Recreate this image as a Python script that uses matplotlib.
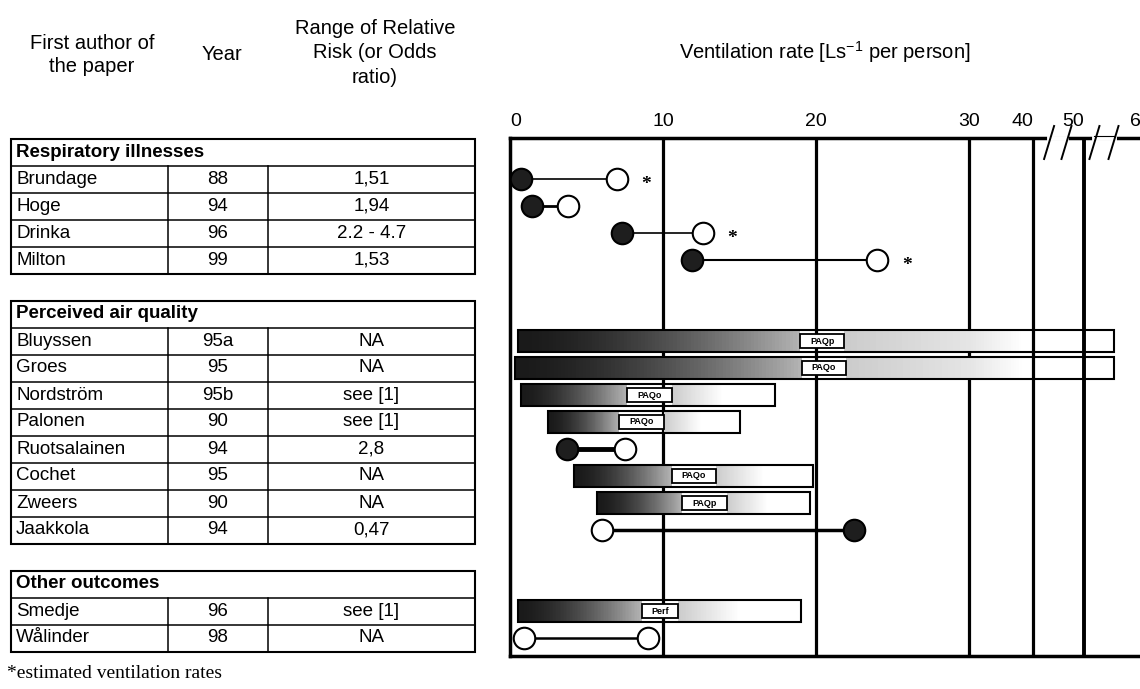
import numpy as np
import matplotlib.pyplot as plt
from matplotlib.patches import Rectangle

plt.rcParams['font.family'] = ['Liberation Sans', 'DejaVu Sans']
plt.rcParams['mathtext.fontset'] = 'custom'
plt.rcParams['mathtext.rm'] = 'Liberation Sans'

# ---- table data ----
groups = ['Respiratory illnesses', 'Perceived air quality', 'Other outcomes']
authors = [['Brundage', 'Hoge', 'Drinka', 'Milton'],
           ['Bluyssen', 'Groes', 'Nordström', 'Palonen', 'Ruotsalainen',
            'Cochet', 'Zweers', 'Jaakkola'],
           ['Smedje', 'Wålinder']]
years = [['88', '94', '96', '99'],
         ['95a', '95', '95b', '90', '94', '95', '90', '94'],
         ['96', '98']]
risks = [['1,51', '1,94', '2.2 - 4.7', '1,53'],
         ['NA', 'NA', 'see [1]', 'see [1]', '2,8', 'NA', 'NA', '0,47'],
         ['see [1]', 'NA']]

# ---- ventilation rates (L/s per person) ----
db_names = ['Brundage', 'Hoge', 'Drinka', 'Milton', 'Ruotsalainen', 'Jaakkola', 'Wålinder']
db_left = [0.7, 1.45, 7.3, 11.9, 3.7, 6.0, 0.9]
db_right = [7.0, 3.8, 12.6, 24.0, 7.5, 22.5, 9.0]
db_left_filled = [True, True, True, True, True, False, False]
db_right_filled = [False, False, False, False, False, True, False]
estimated = ['Brundage', 'Drinka', 'Milton']

bar_names = ['Bluyssen', 'Groes', 'Nordström', 'Palonen', 'Cochet', 'Zweers', 'Smedje']
bar_start = [0.5, 0.3, 0.7, 2.5, 4.2, 5.7, 0.5]
bar_end = [55.3, 55.3, 17.3, 15.0, 19.8, 19.6, 19.0]
bar_tag = ['PAQp', 'PAQo', 'PAQo', 'PAQo', 'PAQo', 'PAQp', 'Perf']
bar_tag_at = [20.4, 20.5, 9.1, 8.6, 12.0, 12.7, 9.8]

tick_vals = [0, 10, 20, 30, 40, 50, 60]

# connector widths (style)
conn_lw = {'Brundage': 1.2, 'Hoge': 2.0, 'Drinka': 1.2, 'Milton': 1.5,
           'Ruotsalainen': 3.5, 'Jaakkola': 2.5, 'Wålinder': 1.8}

# row slots: header, rows, gap
slot = {}
header_slot = []
k = -1
for names in authors:
    header_slot.append(k)
    for i, n in enumerate(names):
        slot[n] = k + 1 + i
    k = k + len(names) + 2

# broken axis: linear to 30, compressed above
brk_v = [0, 30, 40, 50, 60, 80]
brk_p = [0, 30, 34.18, 37.52, 41.18, 48.5]
def fwd(v):
    return np.interp(v, brk_v, brk_p)
def inv(p):
    return np.interp(p, brk_p, brk_v)

W, H = 1140, 689
fig = plt.figure(figsize=(W / 100, H / 100), dpi=100)

top_px, bot_px = 138, 656
ymin, ymax = (bot_px - 179) / 27, (top_px - 179) / 27

ax = fig.add_axes([510 / W, 1 - bot_px / H, (1146 - 510) / W, (bot_px - top_px) / H])
ax.set_xscale('function', functions=(fwd, inv))
ax.set_xlim(0, 61)
ax.set_ylim(ymin, ymax)
ax.set_yticks([])
ax.xaxis.tick_top()
ax.set_xticks(tick_vals)
ax.set_xticklabels([str(v) for v in tick_vals])
ax.tick_params(axis='x', length=0, pad=6, labelsize=14)
for lab, v in zip(ax.get_xticklabels(), tick_vals):
    if v == 0:
        lab.set_ha('left')
    elif v in (40, 50):
        lab.set_ha('right')
for s in ax.spines.values():
    s.set_linewidth(2.5)

for v in tick_vals[1:-1]:
    ax.axvline(v, color='black', lw=2.8 if v == 50 else 2.3, zorder=1)

# gradient bars
bh = 0.78
for n, s0, s1, tag, at in zip(bar_names, bar_start, bar_end, bar_tag, bar_tag_at):
    y = slot[n]
    tw = 2.4 if tag == 'Perf' else 2.9
    bl, br = at - tw / 2, at + tw / 2
    edges = np.linspace(s0, bl, 81)
    t = np.linspace(0, 1, 80)
    g = 0.1 + 0.6 * t ** 1.6
    ax.barh([y] * 80, np.diff(edges), left=edges[:-1], height=bh,
            color=[(c, c, c) for c in g], lw=0, antialiased=False, zorder=3)
    edges = np.linspace(br, br + 0.5 * (s1 - br), 41)
    t = np.linspace(0, 1, 40)
    g = 0.8 + 0.2 * t
    ax.barh([y] * 40, np.diff(edges), left=edges[:-1], height=bh,
            color=[(c, c, c) for c in g], lw=0, antialiased=False, zorder=3)
    ax.barh(y, s1 - s0, left=s0, height=bh, fill=False, edgecolor='black', lw=1.5, zorder=4)
    ax.add_patch(Rectangle((bl, y - 0.27), tw, 0.54, facecolor='white',
                           edgecolor='black', lw=1.3, zorder=5))
    ax.text(at, y, tag, ha='center', va='center', fontsize=6.5, fontweight='bold', zorder=6)

# dumbbells
for n, a, b, fa, fb in zip(db_names, db_left, db_right, db_left_filled, db_right_filled):
    y = slot[n]
    ax.plot([a, b], [y, y], color='black', lw=conn_lw[n], zorder=4, solid_capstyle='butt')
    for v, f in ((a, fa), (b, fb)):
        ax.plot(v, y, 'o', ms=15.5, mew=1.5, mec='black',
                mfc='#1e1e1e' if f else 'white', zorder=5, clip_on=False)
    if n in estimated:
        ax.annotate('*', (max(a, b), y), xytext=(21, -4), textcoords='offset points',
                    ha='center', va='center', fontsize=14, fontweight='bold',
                    family=['Liberation Serif', 'DejaVu Serif'])

# axis break marks on the top border
x1 = fwd(61)
bw, bhh = 636, bot_px - top_px
for pair in ([43.1, 46.5], [51.8, 55.2]):
    xs = [fwd(v) / x1 for v in pair]
    ax.plot(xs, [1, 1], color='white', lw=3.5, transform=ax.transAxes, clip_on=False, zorder=6)
    for xa in xs:
        ax.plot([xa - 5 / bw, xa + 5 / bw], [1 - 21 / bhh, 1 + 12 / bhh], color='black',
                lw=1.4, transform=ax.transAxes, clip_on=False, zorder=7)
xs = [fwd(v) / x1 for v in [51.8, 55.2]]
ax.plot(xs, [1 + 2 / bhh] * 2, color='black', lw=0.8, transform=ax.transAxes, clip_on=False, zorder=7)

# ---- table ----
tax = fig.add_axes([11 / W, 1 - bot_px / H, (475 - 11) / W, (bot_px - top_px) / H])
tax.set_xlim(0, 464)
tax.set_ylim(ymin, ymax)
tax.axis('off')
c1, c2, tw_ = 157, 257, 464
for g, names in enumerate(authors):
    hs = header_slot[g]
    last = slot[names[-1]]
    tax.add_patch(Rectangle((0, hs - 0.5), tw_, last - hs + 1, fill=False,
                            edgecolor='black', lw=1.5, clip_on=False))
    for i in range(len(names)):
        tax.plot([0, tw_], [hs + 0.5 + i] * 2, color='black', lw=1.1, clip_on=False)
    for cx in (c1, c2):
        tax.plot([cx, cx], [hs + 0.5, last + 0.5], color='black', lw=1.1, clip_on=False)
    tax.text(5, hs, groups[g], ha='left', va='center', fontsize=13.5, fontweight='bold')
    for n, yr, rr in zip(names, years[g], risks[g]):
        y = slot[n]
        tax.text(5, y, n, ha='left', va='center', fontsize=13.5)
        tax.text((c1 + c2) / 2, y, yr, ha='center', va='center', fontsize=13.5)
        tax.text((c2 + tw_) / 2, y, rr, ha='center', va='center', fontsize=13.5)

# column titles
fig.text(92 / W, 1 - 55 / H, 'First author of\nthe paper', ha='center', va='center',
         fontsize=14.5, linespacing=1.3)
fig.text(222 / W, 1 - 55 / H, 'Year', ha='center', va='center', fontsize=14.5)
fig.text(375 / W, 1 - 53 / H, 'Range of Relative\nRisk (or Odds\nratio)', ha='center',
         va='center', fontsize=14.5, linespacing=1.35)
fig.text(825 / W, 1 - 52 / H, 'Ventilation rate [Ls$^{-1}$ per person]', ha='center',
         va='center', fontsize=14.5)
fig.text(7 / W, 1 - 674 / H, '*estimated ventilation rates', ha='left', va='center',
         fontsize=14, family=['Liberation Serif', 'DejaVu Serif'])

fig.savefig('out.png', dpi=100)
